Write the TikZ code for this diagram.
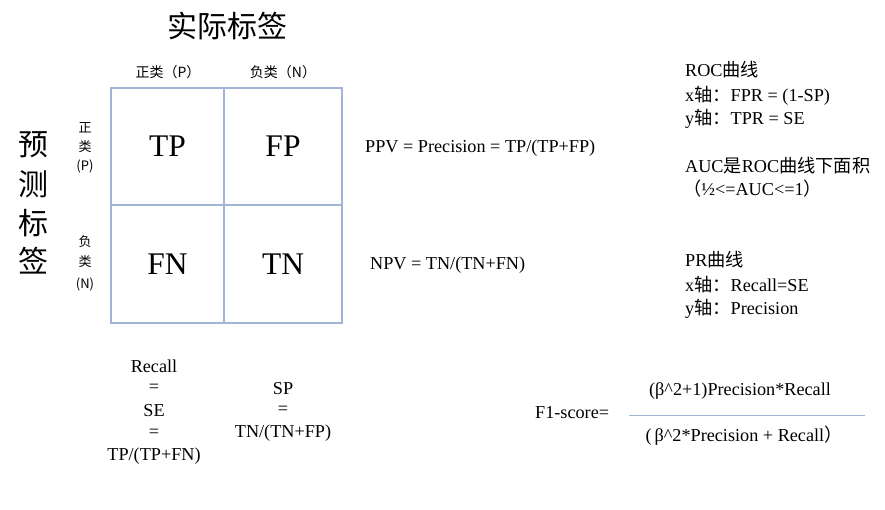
\documentclass[tikz,border=0pt]{standalone}
\usepackage{fontspec}
\setmainfont{Liberation Serif}
\newfontfamily\cjk{Noto Sans CJK SC}
\definecolor{gridblue}{RGB}{160,182,212}
\begin{document}
\begin{tikzpicture}[x=1pt,y=-1pt,
  cell/.style={draw=gridblue,line width=1.2pt,inner sep=0pt,font=\fontsize{31.5}{31.5}\selectfont},
  big/.style={inner sep=0pt,font=\cjk\fontsize{30}{30}\selectfont},
  hdr/.style={inner sep=0pt,font=\cjk\fontsize{14}{14}\selectfont},
  rowl/.style={inner sep=0pt,font=\cjk\fontsize{13}{13}\selectfont},
  txt/.style={inner sep=0pt,anchor=west,font=\fontsize{18.2}{18.2}\selectfont},
  ctxt/.style={inner sep=0pt,font=\fontsize{18.2}{18.2}\selectfont},
  fracline/.style={draw=gridblue,line width=1pt}]
\useasboundingbox (0,0) rectangle (885,510);
% title
\node[big] (title) at (227,26) {实际标签};
\node[big] (p1) at (33,145) {预};
\node[big] (p2) at (33,184) {测};
\node[big] (p3) at (33,223) {标};
\node[big] (p4) at (33,261) {签};
% column headers
\node[hdr] (hP) at (168,72) {正类（P）};
\node[hdr] (hN) at (283,72) {负类（N）};
% row headers
\node[rowl] (r1a) at (85,128) {正};
\node[rowl] (r1b) at (85,147) {类};
\node[rowl] (r1c) at (85,166) {(P)};
\node[rowl] (r2a) at (85,242) {负};
\node[rowl] (r2b) at (85,262) {类};
\node[rowl] (r2c) at (85,284) {(N)};
% cells
\node[cell,minimum width=113pt,minimum height=117pt] (TP) at (167.5,146.5) {TP};
\node[cell,minimum width=118pt,minimum height=117pt] (FP) at (283,146.5) {FP};
\node[cell,minimum width=113pt,minimum height=118pt] (FN) at (167.5,264) {FN};
\node[cell,minimum width=118pt,minimum height=118pt] (TN) at (283,264) {TN};
% ppv npv
\node[txt] (ppv) at (365,148) {PPV = Precision = TP/(TP+FP)};
\node[txt] (npv) at (370,265) {NPV = TN/(TN+FN)};
% ROC
\node[txt] (roc1) at (685,70) {ROC{\cjk 曲线}};
\node[txt] (roc2) at (685,96) {x{\cjk 轴：}FPR = (1-SP)};
\node[txt] (roc3) at (685,119) {y{\cjk 轴：}TPR = SE};
\node[txt] (auc1) at (685,166) {AUC{\cjk 是}ROC{\cjk 曲线下面积}};
\node[txt] (auc2) at (683,189) {{\cjk （}½<=AUC<=1{\cjk ）}};
% PR
\node[txt] (pr1) at (685,260) {PR{\cjk 曲线}};
\node[txt] (pr2) at (685,285) {x{\cjk 轴：}Recall=SE};
\node[txt] (pr3) at (685,309) {y{\cjk 轴：}Precision};
% recall
\node[ctxt] (rc1) at (154,366) {Recall};
\node[ctxt] (rc2) at (154,388) {=};
\node[ctxt] (rc3) at (154,411) {SE};
\node[ctxt] (rc4) at (154,433) {=};
\node[ctxt] (rc5) at (154,456) {TP/(TP+FN)};
% SP
\node[ctxt] (sp1) at (283,389) {SP};
\node[ctxt] (sp2) at (283,410) {=};
\node[ctxt] (sp3) at (283,433) {TN/(TN+FP)};
% F1
\node[txt] (f1) at (535,413) {F1-score=};
\coordinate (fl) at (629,415);
\coordinate (fr) at (865,415);
\draw[fracline] (fl) -- (fr);
\node[ctxt] (num) at (740,391) {(β\textasciicircum 2+1)Precision*Recall};
\node[ctxt] (den) at (744,436) {(\,β\textasciicircum 2*Precision + Recall{\cjk ）}};
\end{tikzpicture}
\end{document}
